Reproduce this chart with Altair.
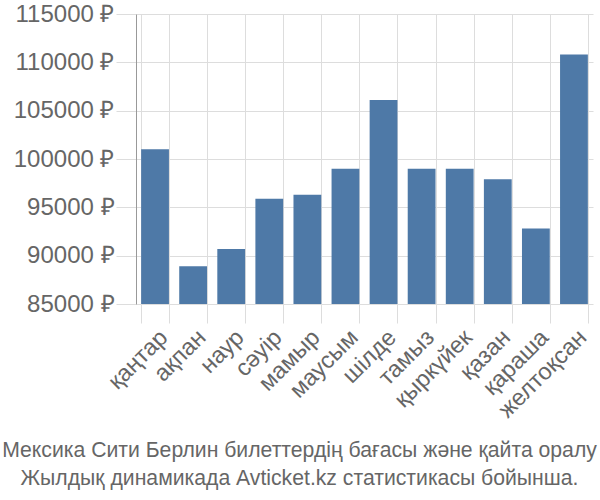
import altair as alt
import pandas as pd

months = ["қаңтар", "ақпан", "наур", "сәуір", "мамыр", "маусым",
          "шілде", "тамыз", "қыркүйек", "қазан", "қараша", "желтоқсан"]
prices = [101000, 88900, 90700, 95900, 96300, 99000,
          106100, 99000, 99000, 97900, 92800, 110800]
y_ticks = [85000, 90000, 95000, 100000, 105000, 110000, 115000]
title_lines = ["Мексика Сити Берлин билеттердің бағасы және қайта оралу",
               "Жылдық динамикада Avticket.kz статистикасы бойынша."]

df = pd.DataFrame({"month": months, "price": prices})

FONT = "Liberation Sans"
TXT = "#666666"
GRID = "#dddddd"

chart = alt.Chart(df).mark_bar(color="#4e79a7", clip=True).encode(
    x=alt.X("month:N", sort=months, title=None,
            scale=alt.Scale(paddingInner=0.27, paddingOuter=0.135),
            axis=alt.Axis(labelAngle=-45, tickBand="extent", grid=True,
                          gridColor=GRID, tickColor=GRID, tickSize=19,
                          domain=False, labelFontSize=23.5, labelColor=TXT,
                          labelFont=FONT, labelPadding=2)),
    y=alt.Y("price:Q", title=None,
            scale=alt.Scale(domain=[85000, 115000], zero=False, nice=False),
            axis=alt.Axis(values=y_ticks,
                          labelExpr="format(datum.value, 'd') + ' ₽'",
                          grid=True, gridColor=GRID, tickColor=GRID,
                          tickSize=20, domainColor="#999999",
                          labelFontSize=24, labelColor=TXT, labelFont=FONT,
                          labelPadding=2))
).properties(
    width=457, height=290,
    title=alt.TitleParams(text=title_lines, orient="bottom", anchor="middle",
                          dx=-65, offset=18, fontSize=21.2, font=FONT,
                          fontWeight="normal", color=TXT, lineHeight=28),
    autosize=alt.AutoSizeParams(type="none"),
    padding={"left": 136, "top": 14, "right": 7, "bottom": 196}
).configure_view(strokeWidth=0)

chart.save("out.html", embed_options={"renderer": "svg", "actions": False})
